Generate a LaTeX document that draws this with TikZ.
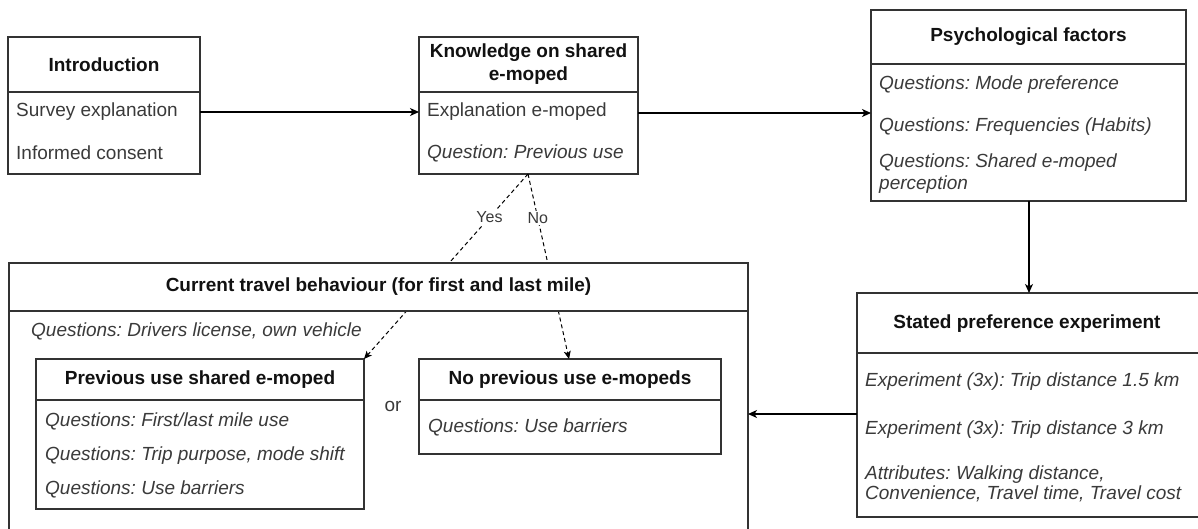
\documentclass[tikz,border=0pt]{standalone}
\usepackage{fontspec}
\setmainfont{Liberation Sans}
\usetikzlibrary{arrows.meta}
\frenchspacing
\definecolor{bd}{HTML}{333333}
\definecolor{tx}{HTML}{3A3A3A}
\definecolor{tt}{HTML}{111111}
\tikzset{
 box/.style={draw=bd, line width=1.2pt, inner sep=0pt, outer sep=0pt, anchor=north west},
 hdr/.style={draw=bd, line width=1.2pt},
 ttl/.style={font=\fontsize{19}{23}\selectfont\bfseries, text=tt, align=center, inner sep=0pt},
 itm/.style={font=\fontsize{19}{21}\selectfont, text=tx, anchor=west, inner sep=0pt, align=left},
 itq/.style={itm, font=\fontsize{19}{21}\selectfont\itshape},
 lbl/.style={font=\fontsize{16}{18}\selectfont, text=tx, inner sep=1.5pt, fill=white},
 arr/.style={line width=1.2pt, -{Stealth[length=9pt,width=8pt,inset=2.5pt]}},
 darr/.style={line width=1pt, dash pattern=on 4pt off 3pt, -{Stealth[length=8pt,width=7pt,inset=2pt]}},
}
\begin{document}
\begin{tikzpicture}[x=1pt,y=-1pt]
\useasboundingbox (0,0) rectangle (1198,528);
\clip (0,0) rectangle (1198,528);
\fill[white] (0,0) rectangle (1198,528);

% Introduction
\node[box, minimum width=192pt, minimum height=137pt] (intro) at (8,37) {};
\draw[hdr] (intro.west |- 0,92) -- (intro.east |- 0,92);
\node[ttl] (introT) at (104,64.5) {Introduction};
\node[itm] (introA) at (16,112) {Survey explanation};
\node[itm] (introB) at (16,153) {Informed consent};

% Knowledge
\node[box, minimum width=219pt, minimum height=137pt] (know) at (419,37) {};
\draw[hdr] (know.west |- 0,92) -- (know.east |- 0,92);
\node[ttl] (knowT) at (528.5,64.5) {Knowledge on shared\\e-moped};
\node[itm] (knowA) at (427,112) {Explanation e-moped};
\node[itq] (knowB) at (427,153) {Question: Previous use};

% Psychological factors
\node[box, minimum width=315pt, minimum height=191pt] (psy) at (871,10) {};
\draw[hdr] (psy.west |- 0,64) -- (psy.east |- 0,64);
\node[ttl] (psyT) at (1028.5,37) {Psychological factors};
\node[itq] (psyA) at (879,85) {Questions: Mode preference};
\node[itq] (psyB) at (879,127) {Questions: Frequencies (Habits)};
\node[itq, font=\fontsize{19}{22}\selectfont\itshape] (psyC) at (879,174) {Questions: Shared e-moped\\perception};

% Stated preference experiment
\node[box, minimum width=360pt, minimum height=224pt] (sp) at (857,293) {};
\draw[hdr] (sp.west |- 0,353) -- (sp.east |- 0,353);
\node[ttl] (spT) at (1027,324) {Stated preference experiment};
\node[itq] (spA) at (865,382) {Experiment (3x): Trip distance 1.5 km};
\node[itq] (spB) at (865,430) {Experiment (3x): Trip distance 3 km};
\node[itq, font=\fontsize{19}{20}\selectfont\itshape] (spC) at (865,484) {Attributes: Walking distance,\\Convenience, Travel time, Travel cost};

% Current travel behaviour
\node[box, minimum width=739pt, minimum height=290pt] (cur) at (9,263) {};
\node[itq] (curA) at (31,331) {Questions: Drivers license, own vehicle};

% Previous use shared e-moped
\node[box, minimum width=328pt, minimum height=150pt] (prev) at (36,359) {};
\draw[hdr] (prev.west |- 0,400) -- (prev.east |- 0,400);
\node[ttl] (prevT) at (200,380) {Previous use shared e-moped};
\node[itq] (prevA) at (45,421) {Questions: First/last mile use};
\node[itq] (prevB) at (45,456) {Questions: Trip purpose, mode shift};
\node[itq] (prevC) at (45,489) {Questions: Use barriers};

% No previous use
\node[box, minimum width=302pt, minimum height=95pt] (nop) at (419,359) {};
\draw[hdr] (nop.west |- 0,400) -- (nop.east |- 0,400);
\node[ttl] (nopT) at (570,380) {No previous use e-mopeds};
\node[itq] (nopA) at (428,427) {Questions: Use barriers};

\node[font=\fontsize{19}{21}\selectfont, text=tx, inner sep=0pt] (or) at (393,406) {or};

% connectors
\coordinate (ksrc) at (528,174);
\draw[arr] (intro.east |- introA) -- (know.west |- introA);
\draw[arr] (know.east |- 0,113) -- (psy.west |- 0,113);
\draw[arr] (psy.south -| 1029,0) -- (sp.north -| 1029,0);
\draw[arr] (sp.west |- 0,414) -- (cur.east |- 0,414);
\draw[darr] (ksrc) -- node[lbl, pos=0.235] {Yes} (prev.north east);
\draw[darr] (ksrc) -- node[lbl, pos=0.24] {No} (nop.north -| 569,0);

% opaque header of the container drawn over the dashed connectors
\filldraw[fill=white, draw=bd, line width=1.2pt] (cur.north west) rectangle (cur.east |- 0,311);
\node[ttl] (curT) at (378.5,287) {Current travel behaviour (for first and last mile)};
\end{tikzpicture}
\end{document}
